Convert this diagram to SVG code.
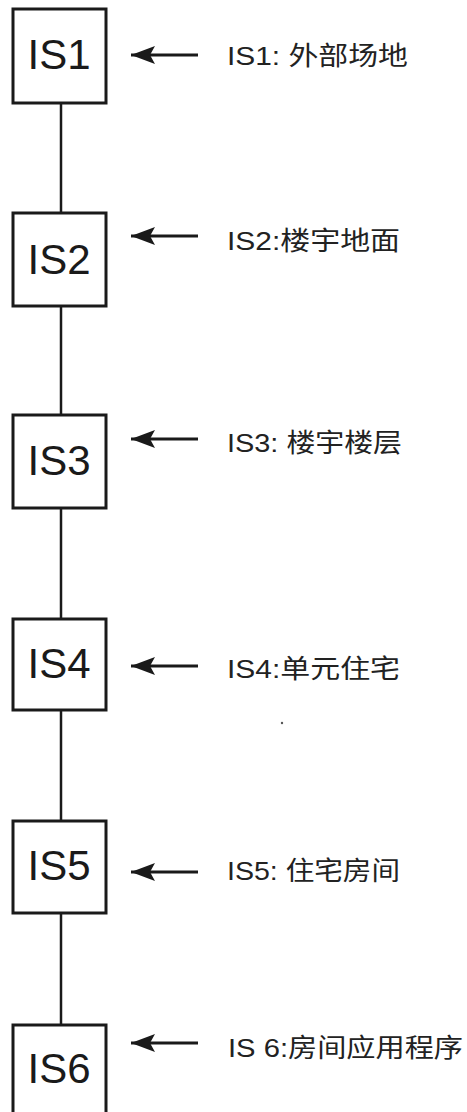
<svg xmlns="http://www.w3.org/2000/svg" width="467" height="1112" viewBox="0 0 467 1112">
<style>
.box{fill:#fff;stroke:#1a1a1a;stroke-width:3}
.bt{font-family:"Liberation Sans",Arial,sans-serif;font-size:42px;fill:#1a1a1a;text-anchor:middle}
.lb{font-family:"Liberation Sans","Noto Sans CJK SC",sans-serif;font-size:26px;fill:#222}
.conn{stroke:#1a1a1a;stroke-width:2.5;fill:none}
.arr{stroke:#1a1a1a;stroke-width:3;fill:none;marker-end:url(#ah)}
</style>
<defs>
<marker id="ah" markerUnits="userSpaceOnUse" markerWidth="26" markerHeight="22" refX="24" refY="11" orient="auto">
<path d="M0,2 L24,11 L0,20 L5,11 Z" fill="#1a1a1a"/>
</marker>
</defs>
<rect width="467" height="1112" fill="#fff"/>
<g id="connectors">
<line class="conn" x1="61" y1="103" x2="61" y2="213"/>
<line class="conn" x1="61" y1="306" x2="61" y2="415"/>
<line class="conn" x1="61" y1="508" x2="61" y2="619"/>
<line class="conn" x1="61" y1="710" x2="61" y2="821"/>
<line class="conn" x1="61" y1="913" x2="61" y2="1025"/>
<line class="arr" x1="198" y1="55" x2="131" y2="55"/>
<line class="arr" x1="198" y1="236" x2="131" y2="236"/>
<line class="arr" x1="198" y1="439" x2="131" y2="439"/>
<line class="arr" x1="198" y1="666" x2="131" y2="666"/>
<line class="arr" x1="198" y1="872" x2="131" y2="872"/>
<line class="arr" x1="198" y1="1043" x2="131" y2="1043"/>
</g>
<g id="IS1"><rect class="box" x="13" y="9" width="93" height="94"/><text class="bt" x="59" y="69">IS1</text></g>
<g id="IS2"><rect class="box" x="13" y="213" width="93" height="93"/><text class="bt" x="59" y="274">IS2</text></g>
<g id="IS3"><rect class="box" x="13" y="415" width="93" height="93"/><text class="bt" x="59" y="475">IS3</text></g>
<g id="IS4"><rect class="box" x="13" y="619" width="93" height="91"/><text class="bt" x="59" y="678">IS4</text></g>
<g id="IS5"><rect class="box" x="13" y="821" width="93" height="92"/><text class="bt" x="59" y="880">IS5</text></g>
<g id="IS6"><rect class="box" x="13" y="1025" width="93" height="100"/><text class="bt" x="59" y="1083">IS6</text></g>
<g id="labels">
<text class="lb" x="227" y="65" textLength="181" lengthAdjust="spacingAndGlyphs">IS1: 外部场地</text>
<text class="lb" x="227" y="250" textLength="173" lengthAdjust="spacingAndGlyphs">IS2:楼宇地面</text>
<text class="lb" x="227" y="452" textLength="175" lengthAdjust="spacingAndGlyphs">IS3: 楼宇楼层</text>
<text class="lb" x="227" y="678" textLength="173" lengthAdjust="spacingAndGlyphs">IS4:单元住宅</text>
<text class="lb" x="227" y="880" textLength="173" lengthAdjust="spacingAndGlyphs">IS5: 住宅房间</text>
<text class="lb" x="228" y="1057" textLength="235" lengthAdjust="spacingAndGlyphs">IS 6:房间应用程序</text>
</g>
<circle cx="282" cy="723" r="1.2" fill="#555"/>
</svg>
